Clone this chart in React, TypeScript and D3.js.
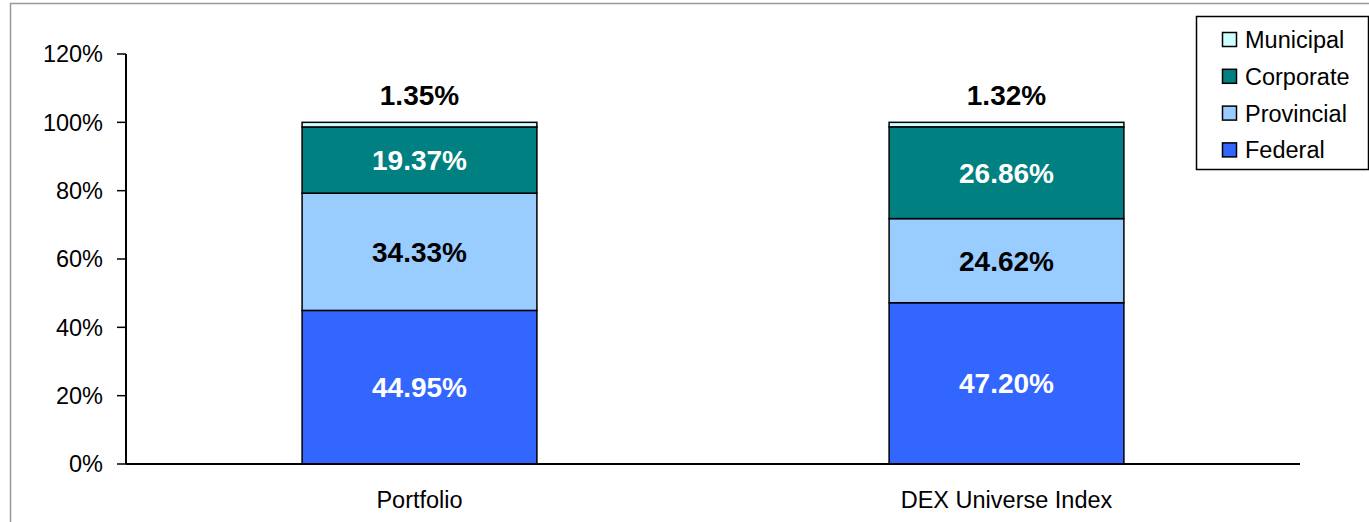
import React from "react";
import * as d3 from "d3";

const categories = ["Portfolio", "DEX Universe Index"];
const seriesNames = ["Federal", "Provincial", "Corporate", "Municipal"];
const federal = [44.95, 47.2];
const provincial = [34.33, 24.62];
const corporate = [19.37, 26.86];
const municipal = [1.35, 1.32];
const yTicks = [0, 20, 40, 60, 80, 100, 120];
const colors = ["#3366FF", "#99CCFF", "#008080", "#CCFFFF"];
const labelColors = ["#FFFFFF", "#000000", "#FFFFFF", "#000000"];
const legendOrder = ["Municipal", "Corporate", "Provincial", "Federal"];

export default function App() {
  const W = 1369, H = 522;
  const left = 126, right = 1300, top = 54, bottom = 464;
  const y = d3.scaleLinear().domain([0, 120]).range([bottom, top]);
  const x = d3.scaleBand().domain(categories).range([left, right]).paddingInner(0.6).paddingOuter(0.3);
  const rows = categories.map((c, i) => ({
    cat: c,
    Federal: federal[i],
    Provincial: provincial[i],
    Corporate: corporate[i],
    Municipal: municipal[i],
  }));
  const stacked = d3.stack<any>().keys(seriesNames)(rows);
  const font = "Liberation Sans, Arial, sans-serif";
  return (
    <svg width={W} height={H} style={{ position: "absolute", left: 0, top: 0 }} fontFamily={font}>
      <rect x={0} y={0} width={W} height={H} fill="#fff" />
      <rect x={10.5} y={3.5} width={W} height={H} fill="none" stroke="#999" strokeWidth={1.5} />
      {stacked.map((s, si) =>
        s.map((d, i) => (
          <rect
            key={si + "-" + i}
            x={x(categories[i])!}
            y={y(d[1])}
            width={x.bandwidth()}
            height={y(d[0]) - y(d[1])}
            fill={colors[si]}
            stroke="#000"
            strokeWidth={1.5}
          />
        ))
      )}
      {stacked.map((s, si) =>
        s.map((d, i) => {
          const cx = x(categories[i])! + x.bandwidth() / 2;
          const isTop = si === 3;
          const cy = isTop ? y(d[1]) - 27 : (y(d[0]) + y(d[1])) / 2;
          return (
            <text
              key={"l" + si + "-" + i}
              x={cx}
              y={cy}
              dy="0.36em"
              textAnchor="middle"
              fontWeight="bold"
              fontSize={28}
              fill={labelColors[si]}
            >
              {(d[1] - d[0]).toFixed(2)}%
            </text>
          );
        })
      )}
      <line x1={left} x2={left} y1={top} y2={bottom} stroke="#000" strokeWidth={2} />
      <line x1={left} x2={right} y1={bottom} y2={bottom} stroke="#000" strokeWidth={2} />
      {yTicks.map((t) => (
        <g key={t}>
          <line x1={left - 9} x2={left} y1={y(t)} y2={y(t)} stroke="#000" strokeWidth={1.5} />
          <text x={left - 23} y={y(t)} dy="0.36em" textAnchor="end" fontSize={23.5} fill="#000">
            {t}%
          </text>
        </g>
      ))}
      {categories.map((c) => (
        <text key={c} x={x(c)! + x.bandwidth() / 2} y={500} dy="0.36em" textAnchor="middle" fontSize={23.5} fill="#000">
          {c}
        </text>
      ))}
      <rect x={1196.5} y={16.5} width={172} height={153} fill="#fff" stroke="#000" strokeWidth={1.5} />
      {legendOrder.map((n, i) => {
        const ci = seriesNames.indexOf(n);
        const cy = 39.5 + i * 36.8;
        return (
          <g key={n}>
            <rect x={1222.5} y={cy - 7} width={14} height={14} fill={colors[ci]} stroke="#000" strokeWidth={1.5} />
            <text x={1245} y={cy} dy="0.36em" fontSize={23.5} fill="#000">
              {n}
            </text>
          </g>
        );
      })}
    </svg>
  );
}
